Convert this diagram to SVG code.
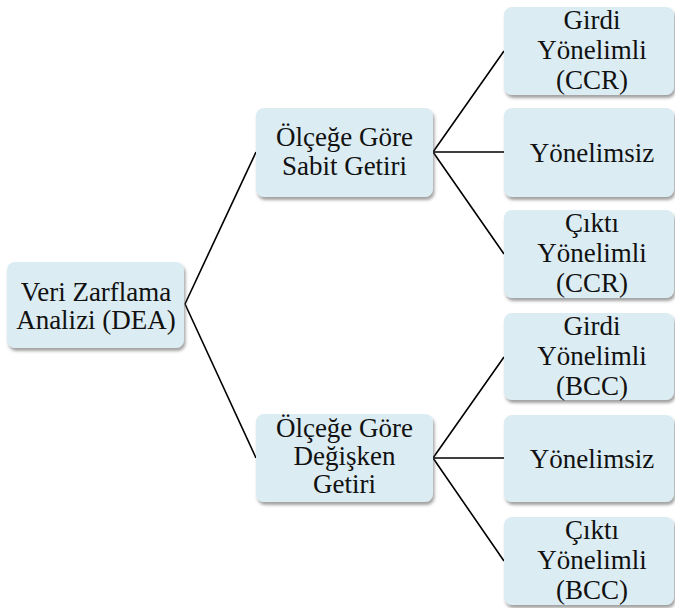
<svg xmlns="http://www.w3.org/2000/svg" width="675" height="608" viewBox="0 0 675 608">
<defs>
<filter id="sh" x="-10%" y="-10%" width="125%" height="130%">
<feDropShadow dx="1.5" dy="3" stdDeviation="1.6" flood-color="#555" flood-opacity="0.55"/>
</filter>
<style>
.box{fill:#dbecf2;filter:url(#sh)}
.t{font-size:27px;fill:#111;text-anchor:middle}
.c{stroke:#000;stroke-width:1.6;fill:none}
</style>
</defs>
<rect width="675" height="608" fill="#fff"/>
<g id="connectors">
<path class="c" d="M185,304 L256,152 M185,304 L256,458"/>
<path class="c" d="M433,152 L504,51 M433,152 L504,152 M433,152 L504,254"/>
<path class="c" d="M433,458 L504,357 M433,458 L504,458 M433,458 L504,561"/>
</g>
<g font-family="'Liberation Serif', 'DejaVu Serif', serif">
<g id="root">
<rect class="box" x="7" y="262" width="177" height="86" rx="8"/>
<text class="t" x="96" y="301">Veri Zarflama</text>
<text class="t" x="96" y="329">Analizi (DEA)</text>
</g>
<g id="sabit">
<rect class="box" x="256" y="108" width="177" height="89" rx="8"/>
<text class="t" x="344.5" y="146">Ölçeğe Göre</text>
<text class="t" x="344.5" y="175">Sabit Getiri</text>
</g>
<g id="degisken">
<rect class="box" x="256" y="414" width="177" height="88" rx="8"/>
<text class="t" x="344.5" y="437">Ölçeğe Göre</text>
<text class="t" x="344.5" y="465">Değişken</text>
<text class="t" x="344.5" y="493">Getiri</text>
</g>
<g id="girdi-ccr">
<rect class="box" x="504" y="7" width="170" height="88" rx="8"/>
<text class="t" x="592" y="29">Girdi</text>
<text class="t" x="592" y="59">Yönelimli</text>
<text class="t" x="592" y="89">(CCR)</text>
</g>
<g id="yonelimsiz-ccr">
<rect class="box" x="504" y="108" width="170" height="89" rx="8"/>
<text class="t" x="592" y="162">Yönelimsiz</text>
</g>
<g id="cikti-ccr">
<rect class="box" x="504" y="210" width="170" height="88" rx="8"/>
<text class="t" x="592" y="232">Çıktı</text>
<text class="t" x="592" y="262">Yönelimli</text>
<text class="t" x="592" y="292">(CCR)</text>
</g>
<g id="girdi-bcc">
<rect class="box" x="504" y="313" width="170" height="87" rx="8"/>
<text class="t" x="592" y="335">Girdi</text>
<text class="t" x="592" y="365">Yönelimli</text>
<text class="t" x="592" y="395">(BCC)</text>
</g>
<g id="yonelimsiz-bcc">
<rect class="box" x="504" y="415" width="170" height="87" rx="8"/>
<text class="t" x="592" y="468">Yönelimsiz</text>
</g>
<g id="cikti-bcc">
<rect class="box" x="504" y="517" width="170" height="88" rx="8"/>
<text class="t" x="592" y="539">Çıktı</text>
<text class="t" x="592" y="569">Yönelimli</text>
<text class="t" x="592" y="599">(BCC)</text>
</g>
</g>
</svg>
